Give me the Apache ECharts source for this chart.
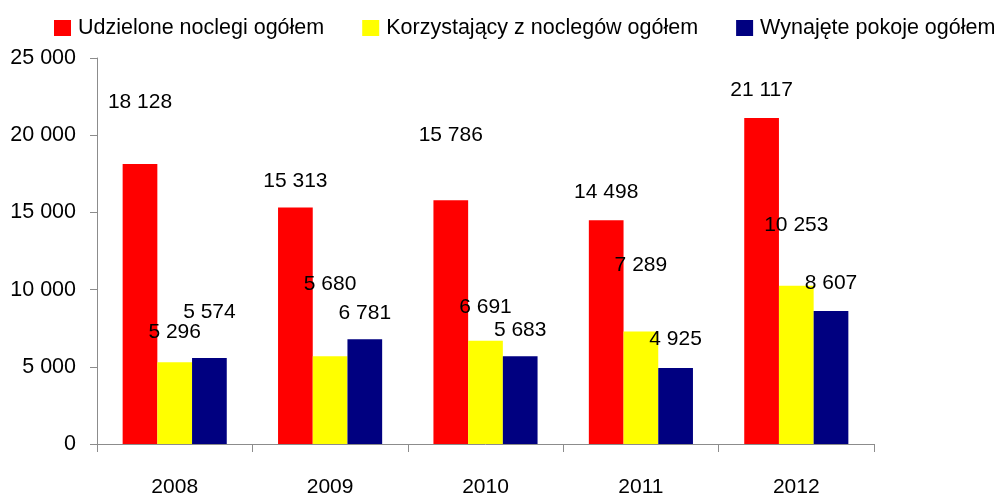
<!DOCTYPE html>
<html>
<head>
<meta charset="utf-8">
<script src="https://cdn.jsdelivr.net/npm/echarts@6/dist/echarts.min.js"></script>
<style>
  html, body { margin: 0; padding: 0; background: #fff; }
  #chart { width: 1001px; height: 495px; }
</style>
</head>
<body>
<div id="chart"></div>
<script>
// data
var years = ["2008", "2009", "2010", "2011", "2012"];
var seriesNames = ["Udzielone noclegi ogółem", "Korzystający z noclegów ogółem", "Wynajęte pokoje ogółem"];
var noclegi = [18128, 15313, 15786, 14498, 21117];
var korzystajacy = [5296, 5680, 6691, 7289, 10253];
var pokoje = [5574, 6781, 5683, 4925, 8607];
var yTicks = [0, 5000, 10000, 15000, 20000, 25000];

// label nudges (layout only), as placed in the source chart
var labelShift = [
  [-48, -13, -52, -14, -14],
  [-17, -59, -20, -53, -47],
  [-32, -13, -13, -15, -14]
];

var colors = ["#ff0000", "#ffff00", "#000080"];
var font = "Liberation Sans, Arial, sans-serif";

function fmt(v) {
  return String(v).replace(/\B(?=(\d{3})+(?!\d))/g, " ");
}

var values = [noclegi, korzystajacy, pokoje];

var series = values.map(function (vals, s) {
  return {
    name: seriesNames[s],
    type: "bar",
    barGap: "0%",
    barCategoryGap: "33%",
    itemStyle: { color: colors[s] },
    data: vals.map(function (v, i) {
      return {
        value: v,
        label: { offset: [0, labelShift[s][i] + 2] }
      };
    }),
    label: {
      show: true,
      position: "top",
      color: "#000",
      fontFamily: font,
      fontSize: 21,
      formatter: function (p) { return fmt(p.value); }
    }
  };
});

var chart = echarts.init(document.getElementById("chart"));
chart.setOption({
  animation: false,
  backgroundColor: "#fff",
  legend: {
    data: seriesNames,
    left: 49,
    top: 12,
    width: 990,
    padding: [5, 0, 5, 5],
    itemWidth: 17,
    itemHeight: 16,
    itemGap: 38,
    icon: "rect",
    textStyle: { color: "#000", fontFamily: font, fontSize: 21.5, padding: [0, 0, 0, 2] }
  },
  grid: {
    left: 97, right: 127, top: 58, bottom: 51,
    containLabel: false,
    outerBoundsMode: "none"
  },
  xAxis: {
    type: "category",
    data: years,
    axisLine: { lineStyle: { color: "#8c8c8c", width: 1 } },
    axisTick: { show: true, length: 8, alignWithLabel: false, lineStyle: { color: "#8c8c8c" } },
    axisLabel: { color: "#000", fontFamily: font, fontSize: 21, margin: 33 }
  },
  yAxis: {
    type: "value",
    min: yTicks[0],
    max: yTicks[yTicks.length - 1],
    interval: yTicks[1] - yTicks[0],
    splitLine: { show: false },
    axisLine: { show: true, lineStyle: { color: "#8c8c8c", width: 1 } },
    axisTick: { show: true, length: 7, lineStyle: { color: "#8c8c8c" } },
    axisLabel: { color: "#000", fontFamily: font, fontSize: 21.5, margin: 21, formatter: fmt }
  },
  series: series
});
</script>
</body>
</html>
